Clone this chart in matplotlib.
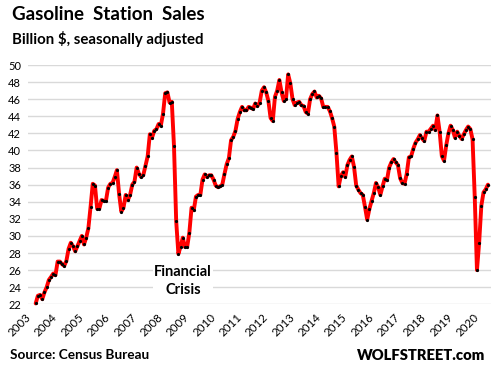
import matplotlib
matplotlib.use("Agg")
import matplotlib.pyplot as plt
import numpy as np

# Monthly gasoline station sales, billion $, SA (Jul 2003 - Sep 2020)
sales = [
    22.1, 23.0, 23.1, 22.6, 23.4, 24.0, 24.85, 25.2, 25.6, 25.4, 27.0, 27.0,
    26.7, 26.5, 27.1, 28.5, 29.2, 28.8, 28.2, 28.8, 29.4, 30.0, 29.0, 29.8,
    30.9, 33.4, 36.1, 35.9, 33.2, 33.2, 34.2, 34.1, 34.1, 35.65, 36.1, 36.2,
    36.9, 37.7, 34.9, 32.85, 33.3, 34.8, 34.2, 34.8, 36.0, 36.35, 38.0, 37.3,
    36.9, 37.1, 38.2, 39.3, 41.9, 41.5, 42.3, 42.5, 43.1, 42.9, 44.3, 46.7,
    46.8, 45.6, 45.7, 40.5, 31.75, 27.9, 28.75, 29.8, 28.7, 28.7, 30.4, 33.3,
    33.0, 34.6, 34.8, 34.8, 36.6, 37.2, 36.9, 37.1, 37.1, 36.6, 35.9, 35.7,
    35.8, 36.0, 37.25, 38.4, 39.1, 41.2, 41.6, 42.3, 43.7, 44.5, 45.1, 44.7,
    44.7, 45.1, 45.0, 44.85, 45.5, 45.2, 45.6, 47.0, 47.4, 46.8, 45.8, 43.8,
    43.45, 46.3, 47.0, 48.25, 46.8, 45.8, 46.0, 48.9, 47.85, 46.0, 45.3, 45.6,
    45.7, 45.3, 45.2, 44.5, 44.3, 46.0, 46.6, 46.9, 46.2, 46.4, 46.1, 45.1,
    45.1, 45.1, 44.6, 43.8, 42.8, 39.75, 35.8, 37.0, 37.45, 36.9, 38.3, 38.9,
    39.3, 38.1, 35.9, 35.4, 35.0, 34.8, 33.4, 31.9, 33.15, 34.1, 35.0, 36.2,
    35.7, 34.8, 35.8, 36.7, 36.5, 38.0, 38.6, 39.0, 38.6, 38.3, 36.75, 36.2,
    36.1, 37.25, 39.2, 39.3, 40.2, 40.9, 41.3, 41.8, 41.4, 41.1, 42.2, 42.2,
    42.55, 42.9, 42.4, 44.1, 42.2, 39.35, 38.8, 40.6, 42.0, 42.9, 42.4, 41.5,
    42.2, 41.7, 41.35, 41.9, 42.4, 42.8, 42.5, 41.3, 34.5, 26.0, 29.2, 33.55,
    35.1, 35.45, 36.0,
]
years = [str(y) for y in range(2003, 2021)]
y_ticks = list(range(22, 51, 2))

months = np.arange(len(sales))
# year label anchors, in months since Jul 2003
year_pos = [-1.2 + 12 * k for k in range(len(years))]

FONT = ['Lato', 'DejaVu Sans']
plt.rcParams['font.family'] = FONT

W, H = 493, 373
fig = plt.figure(figsize=(W / 100, H / 100), dpi=100)
left, right, top, bottom = 28, 491, 65, 304.3
ax = fig.add_axes([left / W, 1 - bottom / H, (right - left) / W, (bottom - top) / H])

ax.plot(months, sales, color='#FF0000', lw=2.8, solid_joinstyle='round',
        solid_capstyle='round', zorder=3, clip_on=False)
ax.plot(months, sales, 'o', color='black', ms=2.3, mew=0, zorder=4, clip_on=False)

ax.set_ylim(22, 50)
ax.set_xlim(-3.5, 207.4)
ax.set_yticks(y_ticks)
ax.set_yticklabels([str(v) for v in y_ticks], fontsize=8)
ax.set_xticks(year_pos)
ax.set_xticklabels(years, rotation=45, ha='right', va='top', fontsize=8.3)
ax.tick_params(axis='both', length=0, colors='black')
ax.tick_params(axis='x', pad=5)
ax.tick_params(axis='y', pad=5)
ax.grid(axis='y', color='#D9D9D9', lw=1.0, zorder=0)
for s in ax.spines.values():
    s.set_visible(False)

fig.text(12 / W, 1 - 15 / H, 'Gasoline  Station  Sales', fontsize=13.5,
         fontweight='bold', va='center', ha='left')
fig.text(12 / W, 1 - 39 / H, 'Billion $, seasonally adjusted', fontsize=10.8,
         fontweight='bold', va='center', ha='left')
fig.text(10 / W, 1 - 355 / H, 'Source: Census Bureau', fontsize=9.8,
         fontweight='bold', va='center', ha='left')
fig.text(485 / W, 1 - 355 / H, 'WOLFSTREET.com', fontsize=10.6,
         fontweight='heavy', va='center', ha='right')
fig.text(183 / W, 1 - 281 / H, 'Financial\nCrisis', fontsize=10.5,
         fontweight='bold', va='center', ha='center', linespacing=1.3,
         bbox=dict(fc='white', ec='none', pad=1))

fig.savefig('out.png', dpi=100)
